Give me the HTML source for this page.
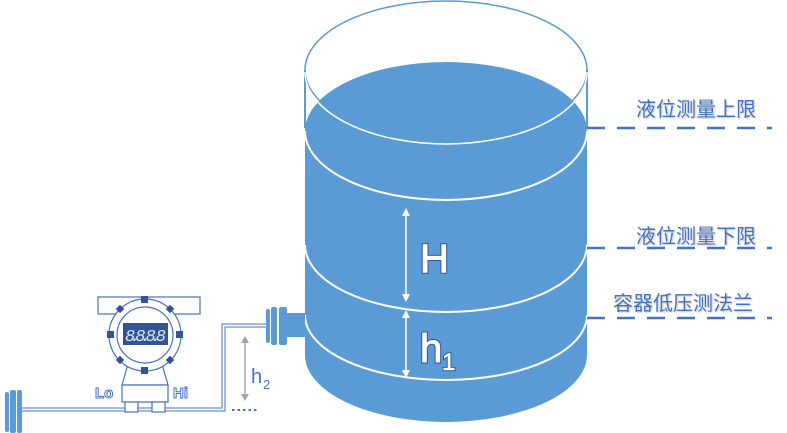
<!DOCTYPE html>
<html><head><meta charset="utf-8"><style>
html,body{margin:0;padding:0;background:#fff;}
svg{display:block;}
.cn{font-family:"Liberation Sans","Noto Sans CJK SC",sans-serif;font-size:20px;fill:#4472c4;}
</style></head><body>
<svg width="787" height="433" viewBox="0 0 787 433" xmlns="http://www.w3.org/2000/svg">
<defs>
<filter id="sh"><feDropShadow dx="1" dy="1" stdDeviation="0.8" flood-color="#888" flood-opacity="0.5"/></filter>
</defs>
<path d="M305 70 V128 M587 70 V128" stroke="#5b9bd5" stroke-width="2" fill="none"/>
<ellipse cx="446" cy="70" rx="141" ry="69" fill="none" stroke="#5b9bd5" stroke-width="1.5"/>
<path d="M305 131 A141 69 0 0 1 587 131 V355 A141 67 0 0 1 305 355 Z" fill="#5b9bd5"/>
<path d="M305 72 A141 72 0 0 0 587 72" fill="none" stroke="#fff" stroke-width="1.5"/>
<path d="M305 131 A141 69 0 0 0 587 131" fill="none" stroke="#fff" stroke-width="2"/>
<path d="M305 245 A141 67 0 0 0 587 245" fill="none" stroke="#fff" stroke-width="2"/>
<path d="M305 315 A141 65 0 0 0 587 315" fill="none" stroke="#fff" stroke-width="2"/>
<g stroke="#fff" stroke-width="1.5" fill="#fff">
<line x1="406" y1="214" x2="406" y2="296"/>
<path d="M402 216 L406 208 L410 216Z M402 294 L406 302 L410 294Z" stroke="none"/>
<line x1="406" y1="316" x2="406" y2="372"/>
<path d="M402 318 L406 310 L410 318Z M402 370 L406 378 L410 370Z" stroke="none"/>
</g>
<g font-family="Liberation Sans,sans-serif" fill="#fff" stroke="#2f5597" style="paint-order:stroke">
<text x="420" y="272" font-size="40" stroke-width="3">H</text>
<text x="420" y="362" font-size="40" stroke-width="3">h</text>
<text x="442" y="370" font-size="24" stroke-width="2.5">1</text>
</g>
<g font-family="Liberation Sans,sans-serif" fill="#fff">
<text x="420" y="272" font-size="40" stroke="#fff" stroke-width="1">H</text>
<text x="420" y="362" font-size="40" stroke="#fff" stroke-width="1">h</text>
<text x="442" y="370" font-size="24" stroke="#fff" stroke-width="0.6">1</text>
</g>
<g stroke="#4472c4" stroke-width="2.5" stroke-dasharray="18,12">
<line x1="587" y1="128" x2="772" y2="128"/>
<line x1="587" y1="248" x2="772" y2="248"/>
<line x1="587" y1="318" x2="772" y2="318"/>
</g>
<g filter="url(#sh)">
<text class="cn" x="636" y="116">液位测量上限</text>
<text class="cn" x="636" y="243">液位测量下限</text>
<text class="cn" x="613" y="310">容器低压测法兰</text>
</g>
<rect x="287" y="313" width="18" height="24" fill="#5b9bd5"/>
<rect x="266" y="309" width="4" height="34" rx="2" fill="#5b9bd5"/>
<rect x="271" y="307" width="6" height="38" rx="2" fill="#5b9bd5"/>
<rect x="279" y="307" width="8" height="38" rx="2" fill="#5b9bd5"/>
<rect x="5" y="392" width="4" height="40" rx="2" fill="#5b9bd5"/>
<rect x="10" y="390" width="6" height="43" rx="2" fill="#5b9bd5"/>
<rect x="17" y="390" width="5" height="43" rx="2" fill="#5b9bd5"/>
<g fill="none" stroke="#4472c4" stroke-width="1">
<path d="M22 408 H222 V324 H266"/>
<path d="M22 411 H225 V327 H266"/>
</g>
<line x1="232" y1="410" x2="258" y2="410" stroke="#4472c4" stroke-width="2" stroke-dasharray="2.5,3"/>
<line x1="245" y1="341" x2="245" y2="396" stroke="#a6a6a6" stroke-width="1.5"/>
<path d="M241 343 L245 336 L249 343Z M241 394 L245 401 L249 394Z" fill="#a6a6a6"/>
<text x="251" y="383" font-family="Liberation Sans,sans-serif" font-size="20" fill="#4472c4">h</text>
<text x="263" y="389" font-family="Liberation Sans,sans-serif" font-size="13" fill="#4472c4">2</text>
<g stroke="#4472c4" stroke-width="1.2" fill="#fff">
<rect x="98" y="297" width="102" height="17"/>
<path d="M128 364 L122 385 H168 L162 364Z"/>
<rect x="122" y="385" width="46" height="17"/>
<rect x="125" y="402" width="13" height="10"/>
<rect x="152" y="402" width="13" height="10"/>
<circle cx="145" cy="335" r="36"/>
<circle cx="145" cy="335" r="28"/>
</g>
<rect x="123" y="323" width="45" height="22" fill="#2f5597"/>
<text x="125" y="341" font-family="Liberation Mono,monospace" font-size="17" font-style="italic" fill="#dbe6f6" textLength="41">8.8.8.8</text>
<g fill="#2f5597">
<rect x="141" y="296" width="7" height="7"/><rect x="141" y="367" width="7" height="7"/>
<rect x="107" y="331" width="7" height="7"/><rect x="176" y="331" width="7" height="7"/>
<rect x="117" y="306" width="6" height="6" transform="rotate(45 120 309)"/>
<rect x="167" y="306" width="6" height="6" transform="rotate(45 170 309)"/>
<rect x="117" y="357" width="6" height="6" transform="rotate(45 120 360)"/>
<rect x="167" y="357" width="6" height="6" transform="rotate(45 170 360)"/>
</g>
<text x="95" y="398" font-family="Liberation Sans,sans-serif" font-weight="bold" font-size="15" fill="#fff" stroke="#4472c4" stroke-width="1">Lo</text>
<text x="173" y="398" font-family="Liberation Sans,sans-serif" font-weight="bold" font-size="15" fill="#fff" stroke="#4472c4" stroke-width="1">Hi</text>
</svg>
</body></html>
